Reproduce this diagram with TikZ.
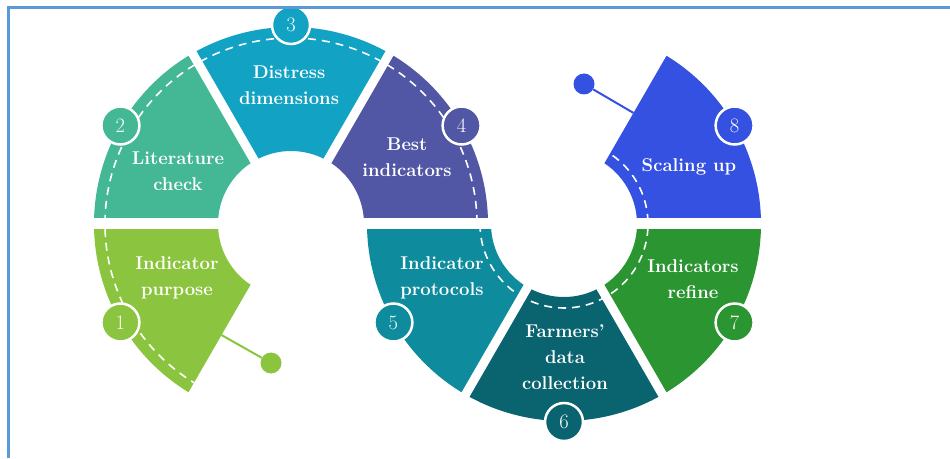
\documentclass[tikz,border=0pt]{standalone}
\usepackage{fontspec}
\usetikzlibrary{calc}
\definecolor{cA}{HTML}{8BC53F}
\definecolor{cB}{HTML}{44B894}
\definecolor{cC}{HTML}{12A2C4}
\definecolor{cD}{HTML}{5156A5}
\definecolor{cE}{HTML}{0E8C9D}
\definecolor{cF}{HTML}{0A6470}
\definecolor{cG}{HTML}{2A9531}
\definecolor{cH}{HTML}{3551E1}
\definecolor{frameblue}{HTML}{5B9BD5}
\newcommand\segfill[4]{%
  \fill[#4] ([shift={(#2:197pt)}]#1) arc[start angle=#2, end angle=#3, radius=197pt]
    -- ([shift={(#3:73pt)}]#1) arc[start angle=#3, end angle=#2, radius=73pt] -- cycle;}
\newcommand\gapcut[2]{%
  \draw[gapline] ([shift={(#2:55pt)}]#1) -- ([shift={(#2:215pt)}]#1);}
\begin{document}
\begin{tikzpicture}[x=1pt,y=1pt,
  seglabel/.style={text=white, font=\fontsize{18.5}{26}\selectfont\bfseries, align=center, inner sep=0pt},
  numc/.style={circle, draw=white, line width=2.5pt, minimum size=38pt, inner sep=0pt, text=white, font=\fontsize{20.5}{20.5}\selectfont},
  dashline/.style={white, line width=1.6pt, dash pattern=on 8pt off 6pt},
  gapline/.style={white, line width=9pt},
  hgap/.style={white, line width=11pt},
  dotn/.style={circle, minimum size=21pt, inner sep=0pt},
  stem/.style={line width=2pt},
  frameline/.style={draw=frameblue, line width=2.6pt, line join=miter}]
\useasboundingbox (0,0) rectangle (950,458);
\coordinate (L) at (291,234);
\coordinate (R) at (564,234);
% segments
\segfill{L}{180}{240}{cA}
\segfill{L}{120}{180}{cB}
\segfill{L}{60}{120}{cC}
\segfill{L}{0}{60}{cD}
\segfill{R}{180}{240}{cE}
\segfill{R}{240}{300}{cF}
\segfill{R}{300}{360}{cG}
\segfill{R}{0}{60}{cH}
% dashed path
\draw[dashline] ([shift={(240:186pt)}]L) arc[start angle=240, end angle=0, radius=186pt];
\draw[dashline] ([shift={(180:84pt)}]R) arc[start angle=180, end angle=420, radius=84pt];
% gaps
\coordinate (gl) at (75,234);
\coordinate (gr) at (780,234);
\draw[hgap] (gl) -- (gr);
\gapcut{L}{240}
\gapcut{L}{120}
\gapcut{L}{60}
\gapcut{R}{240}
\gapcut{R}{300}
\gapcut{R}{60}
% stems and dots
\coordinate (e1) at ([shift={(238:131pt)}]L);
\coordinate (e8) at ([shift={(58:131pt)}]R);
\node[dotn, fill=cA] (d1) at (271,95) {};
\node[dotn, fill=cH] (d8) at (584,374) {};
\draw[stem, cA] (e1) -- (d1);
\draw[stem, cH] (e8) -- (d8);
% number circles
\node[numc, fill=cA] (n1) at ([shift={(210:197pt)}]L) {1};
\node[numc, fill=cB] (n2) at ([shift={(150:197pt)}]L) {2};
\node[numc, fill=cC] (n3) at ([shift={(90:199pt)}]L) {3};
\node[numc, fill=cD] (n4) at ([shift={(30:197pt)}]L) {4};
\node[numc, fill=cE] (n5) at ([shift={(210:197pt)}]R) {5};
\node[numc, fill=cF] (n6) at ([shift={(270:198pt)}]R) {6};
\node[numc, fill=cG] (n7) at ([shift={(330:197pt)}]R) {7};
\node[numc, fill=cH] (n8) at ([shift={(30:197pt)}]R) {8};
% labels
\node[seglabel] (t1) at (177,180) {Indicator\\purpose};
\node[seglabel] (t2) at (178,287) {Literature\\check};
\node[seglabel] (t3) at (289,373) {Distress\\dimensions};
\node[seglabel] (t4) at (407,301) {Best\\indicators};
\node[seglabel] (t5) at (442,180) {Indicator\\protocols};
\node[seglabel] (t6) at (565,101) {Farmers’\\data\\collection};
\node[seglabel] (t7) at (693,179) {Indicators\\refine};
\node[seglabel] (t8) at (689,291) {Scaling up};
% frame
\coordinate (fa) at (8.5,0);
\coordinate (fb) at (8.5,450.5);
\coordinate (fc) at (950,450.5);
\draw[frameline] (fa) -- (fb) -- (fc);
\end{tikzpicture}
\end{document}
